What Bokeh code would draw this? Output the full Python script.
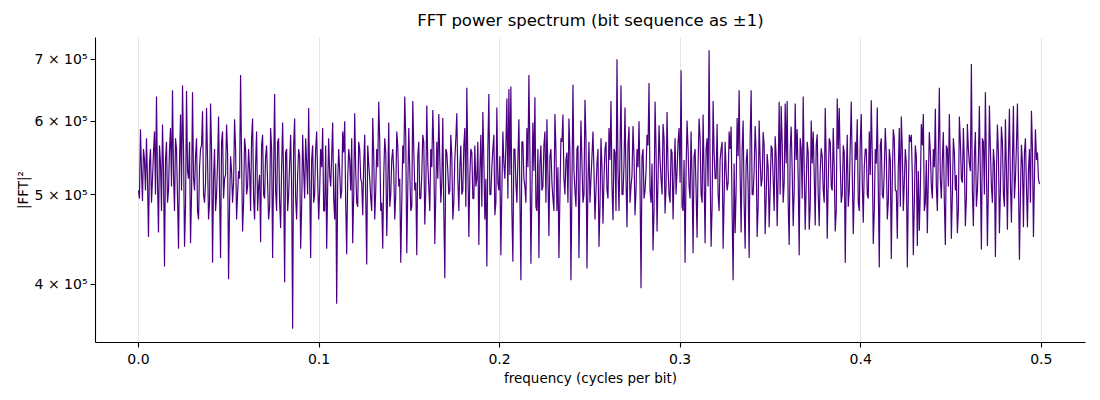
import numpy as np
from bokeh.plotting import figure
from bokeh.models import Range1d, FixedTicker
from bokeh.embed import file_html
from bokeh.resources import INLINE

# |FFT|^2 values, in thousands, in nine bands of frequency.
# segN: the visible spikes and dips; midN: the dense core values between them.
seg0 = [505, 588, 492, 545, 575, 450, 560, 520, 585, 638, 455, 540, 595, 418, 570, 505, 590, 648, 480, 560,
        437, 610, 656, 439, 647, 520, 443, 645, 505, 575, 470, 560, 615, 490, 620, 470, 627, 422, 560, 500,
        607, 427, 585, 520, 595, 405, 550, 490, 603, 470]
mid0 = [495, 530, 560, 505, 520, 540, 490, 555, 500, 515, 565, 480, 530, 545, 490, 560, 510, 525, 575, 495,
        540, 505, 560, 485, 530, 570, 500, 520, 550, 480, 535, 565, 500, 515, 545, 490, 560, 520, 480, 540,
        505, 570, 495, 525, 555, 485, 530, 515, 560, 500]
seg1 = [530, 673, 456, 575, 500, 560, 480, 604, 470, 585, 510, 444, 580, 495, 565, 470, 590, 427, 642, 480,
        575, 460, 598, 402, 560, 500, 580, 358, 604, 470, 560, 437, 580, 495, 540, 620, 427, 565, 500, 585,
        470, 560, 590, 480, 437, 575, 510, 598, 470, 381]
mid1 = [520, 545, 490, 560, 510, 530, 575, 495, 540, 480, 525, 565, 500, 550, 515, 485, 560, 530, 505, 570,
        490, 535, 520, 555, 480, 540, 510, 565, 495, 525, 550, 485, 530, 575, 500, 515, 545, 490, 560, 520,
        505, 535, 480, 565, 510, 525, 550, 495, 540, 515]
seg2 = [560, 495, 585, 600, 431, 560, 505, 443, 612, 490, 570, 520, 475, 580, 420, 540, 495, 605, 470, 560,
        630, 480, 437, 575, 451, 598, 500, 560, 470, 585, 510, 422, 565, 638, 432, 590, 480, 631, 505, 430,
        570, 495, 580, 464, 624, 510, 560, 617, 442, 570]
mid2 = [530, 505, 555, 490, 520, 545, 575, 500, 530, 485, 560, 515, 540, 495, 565, 520, 480, 550, 505, 535,
        570, 490, 525, 555, 510, 485, 545, 530, 500, 565, 520, 490, 540, 575, 505, 530, 485, 560, 515, 550,
        495, 525, 570, 505, 540, 480, 535, 560, 500, 520]
seg3 = [611, 490, 605, 406, 555, 500, 580, 470, 545, 612, 480, 565, 505, 590, 652, 450, 560, 495, 565, 520,
        441, 580, 614, 470, 418, 642, 500, 560, 475, 621, 505, 430, 585, 520, 635, 650, 654, 423, 560, 490,
        603, 404, 570, 510, 590, 673, 421, 598, 637, 480]
mid3 = [545, 515, 480, 560, 530, 505, 550, 490, 575, 520, 535, 500, 565, 485, 540, 525, 555, 495, 510, 570,
        530, 485, 545, 520, 560, 500, 535, 580, 490, 515, 550, 505, 540, 565, 495, 525, 480, 560, 515, 545,
        500, 570, 520, 490, 535, 555, 505, 530, 485, 560]
seg4 = [427, 565, 510, 585, 603, 451, 560, 495, 611, 480, 427, 575, 610, 500, 555, 604, 404, 657, 505, 560,
        427, 601, 490, 633, 416, 570, 520, 585, 470, 540, 439, 575, 465, 560, 505, 590, 631, 469, 555, 700,
        480, 656, 500, 621, 461, 592, 510, 593, 475, 560]
mid4 = [540, 505, 565, 490, 525, 550, 515, 480, 560, 535, 500, 570, 520, 545, 490, 555, 510, 530, 485, 565,
        520, 540, 500, 575, 515, 490, 550, 530, 505, 560, 485, 535, 520, 570, 495, 545, 510, 560, 480, 530,
        555, 500, 540, 520, 565, 490, 525, 550, 505, 535]
seg5 = [600, 396, 560, 505, 580, 660, 490, 435, 630, 456, 594, 520, 596, 477, 614, 500, 560, 470, 575, 530,
        590, 681, 480, 422, 601, 510, 585, 432, 560, 449, 604, 500, 610, 443, 575, 716, 439, 631, 520, 596,
        480, 560, 437, 570, 505, 585, 592, 404, 454, 605]
mid5 = [515, 550, 495, 530, 565, 505, 540, 480, 560, 520, 545, 500, 575, 510, 535, 490, 555, 525, 500, 570,
        515, 485, 545, 530, 560, 495, 520, 550, 505, 540, 575, 490, 525, 560, 510, 535, 485, 555, 520, 500,
        545, 570, 495, 530, 515, 560, 480, 540, 505, 550]
seg6 = [648, 455, 601, 437, 560, 427, 648, 500, 593, 450, 601, 510, 584, 453, 553, 461, 565, 520, 578, 462,
        630, 623, 490, 627, 631, 441, 592, 462, 627, 588, 430, 560, 638, 458, 570, 458, 601, 585, 463, 581,
        462, 561, 505, 620, 448, 575, 510, 590, 456, 635]
mid6 = [525, 560, 490, 540, 510, 575, 500, 530, 555, 485, 545, 520, 565, 495, 535, 505, 560, 480, 550, 525,
        500, 570, 515, 540, 490, 560, 530, 505, 545, 520, 575, 495, 535, 510, 555, 485, 540, 525, 565, 500,
        530, 550, 490, 545, 515, 570, 505, 535, 480, 560]
seg7 = [620, 490, 565, 422, 580, 505, 630, 453, 570, 603, 480, 611, 466, 560, 500, 585, 632, 442, 560, 621,
        417, 575, 495, 590, 470, 560, 426, 588, 505, 448, 590, 607, 480, 560, 417, 580, 580, 430, 565, 440,
        457, 596, 611, 490, 454, 584, 510, 560, 619, 480]
mid7 = [540, 500, 555, 520, 485, 565, 530, 505, 545, 490, 570, 515, 535, 560, 495, 525, 550, 480, 540, 510,
        565, 500, 530, 555, 490, 545, 520, 575, 505, 535, 485, 560, 515, 540, 500, 570, 525, 490, 550, 530,
        505, 565, 480, 545, 520, 555, 495, 535, 510, 560]
seg8 = [652, 495, 584, 441, 560, 611, 448, 575, 505, 454, 607, 520, 590, 462, 596, 540, 692, 462, 584, 505,
        623, 436, 570, 645, 440, 624, 510, 560, 428, 595, 454, 592, 500, 603, 458, 619, 466, 623, 520, 627,
        425, 566, 461, 575, 461, 560, 616, 450, 588, 555, 513]
mid8 = [520, 545, 490, 565, 510, 535, 500, 555, 525, 480, 570, 515, 540, 495, 560, 530, 505, 550, 485, 545,
        520, 575, 500, 535, 510, 560, 490, 540, 525, 555, 505, 570, 485, 530, 550, 515, 545, 495, 565, 520,
        500, 540, 555, 510, 530, 490, 560, 525, 545, 520]

segs = [seg0, seg1, seg2, seg3, seg4, seg5, seg6, seg7, seg8]
mids = [mid0, mid1, mid2, mid3, mid4, mid5, mid6, mid7, mid8]
vals = []
for s, m in zip(segs, mids):
    for k in range(len(s)):
        vals.append(s[k])
        if k < len(m):
            vals.append(m[k])
power = np.array(vals, dtype=float) * 1000.0
freq = np.linspace(0.0, 0.499, len(power))

x_ticks = [0.0, 0.1, 0.2, 0.3, 0.4, 0.5]
x_tick_labels = ["0.0", "0.1", "0.2", "0.3", "0.4", "0.5"]
y_ticks = [400000, 500000, 600000, 700000]
y_tick_labels = ["4 × 10⁵", "5 × 10⁵", "6 × 10⁵", "7 × 10⁵"]

FONT = "DejaVu Sans"

p = figure(width=1092, height=392, y_axis_type="log",
           x_range=Range1d(-0.0238, 0.5245), y_range=Range1d(3.46e5, 7.39e5),
           output_backend="svg", toolbar_location=None,
           title="FFT power spectrum (bit sequence as ±1)",
           min_border_left=95, min_border_right=7, min_border_top=37, min_border_bottom=50)

p.line(freq, power, line_color="#4b0082", line_width=1.2)

p.outline_line_color = None
p.background_fill_color = "white"
p.border_fill_color = "white"

p.title.align = "center"
p.title.text_font = FONT
p.title.text_font_size = "16.5px"
p.title.text_font_style = "normal"
p.title.text_color = "black"
p.title.standoff = 16

p.xaxis.ticker = FixedTicker(ticks=x_ticks)
p.xaxis.major_label_overrides = {t: l for t, l in zip(x_ticks, x_tick_labels)}
p.yaxis.ticker = FixedTicker(ticks=y_ticks, minor_ticks=[])
p.yaxis.major_label_overrides = {t: l for t, l in zip(y_ticks, y_tick_labels)}

for ax in (p.xaxis, p.yaxis):
    ax.axis_line_color = "black"
    ax.axis_line_width = 1.1
    ax.major_tick_line_color = "black"
    ax.major_tick_line_width = 1.1
    ax.major_tick_out = 5
    ax.major_tick_in = 0
    ax.minor_tick_line_color = None
    ax.major_label_text_font = FONT
    ax.major_label_text_font_size = "14px"
    ax.major_label_text_color = "black"
    ax.axis_label_text_font = FONT
    ax.axis_label_text_font_size = "13.5px"
    ax.axis_label_text_font_style = "normal"
    ax.axis_label_text_color = "black"

p.xaxis.axis_label = "frequency (cycles per bit)"
p.yaxis.axis_label = "|FFT|²"
p.xaxis.major_label_standoff = 6
p.xaxis.axis_label_standoff = 3
p.yaxis.major_label_standoff = 3
p.yaxis.axis_label_standoff = 1

p.xgrid.grid_line_color = "#e6e6e6"
p.xgrid.grid_line_width = 1
p.ygrid.grid_line_color = None

open("out.html", "w").write(file_html(p, INLINE))
